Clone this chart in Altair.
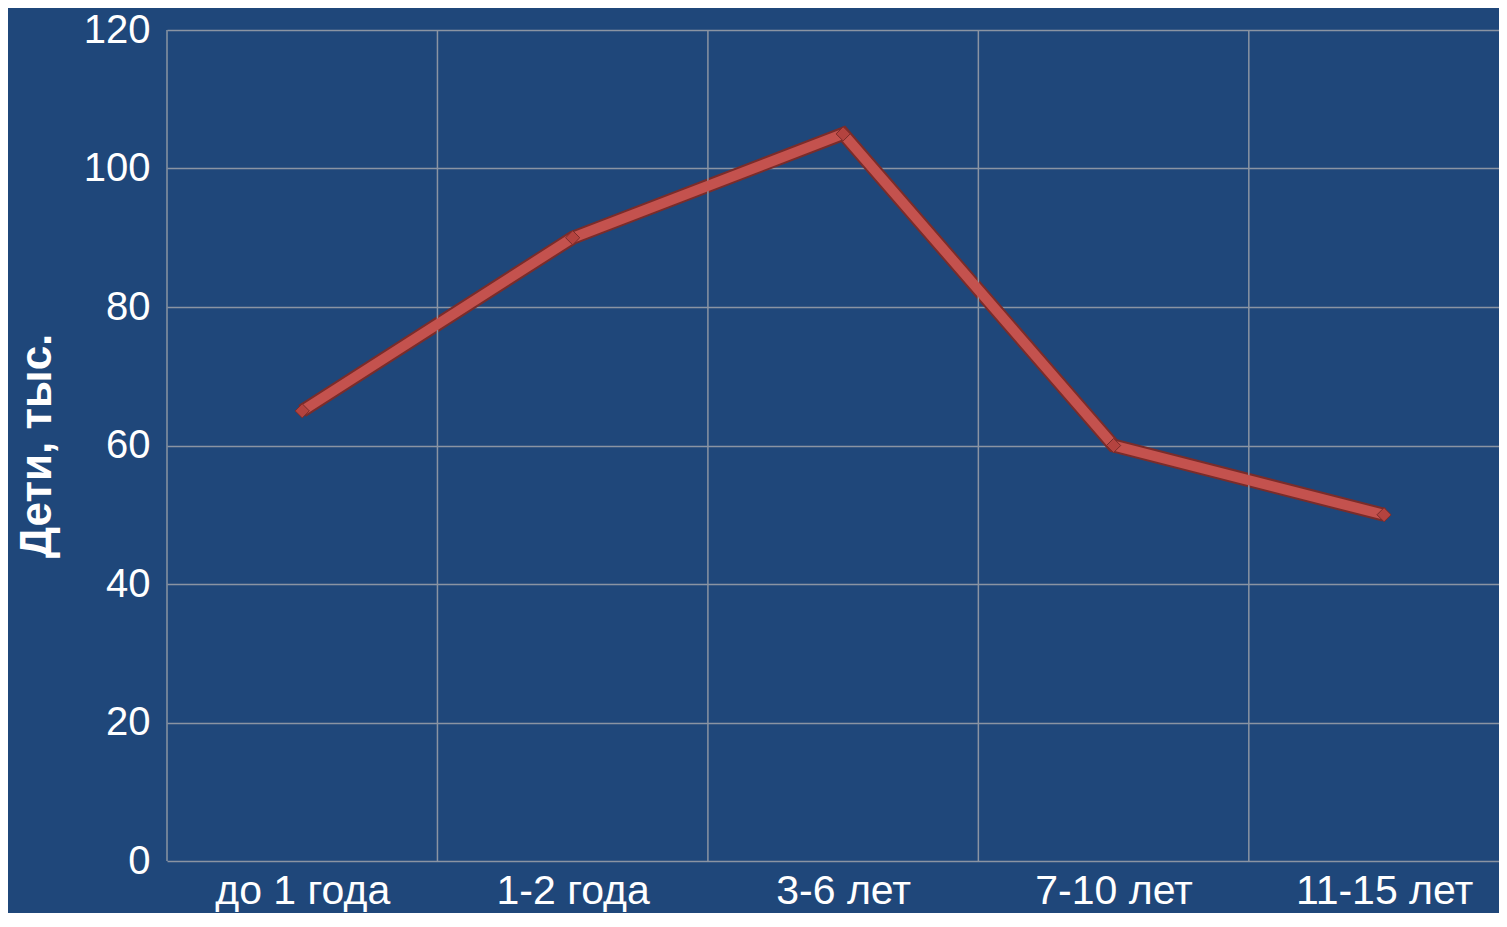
import json
import altair as alt
import pandas as pd

categories = ["до 1 года", "1-2 года", "3-6 лет", "7-10 лет", "11-15 лет"]
values = [65, 90, 105, 60, 50]
y_ticks = [0, 20, 40, 60, 80, 100, 120]
y_title = "Дети, тыс."

df = pd.DataFrame({
    "cat": categories,
    "idx": [i + 0.5 for i in range(len(categories))],
    "value": values,
})
bounds = pd.DataFrame({"b": list(range(len(categories) + 1))})

BG = "#1f477a"
GRID = "#8a94a3"
FONT = "Liberation Sans"

label_expr = json.dumps(categories, ensure_ascii=False) + "[floor(datum.value)]"

xscale = alt.Scale(domain=[0, 4.925], nice=False, zero=False)
yscale = alt.Scale(domain=[0, 120], nice=False)

x_axis = alt.Axis(
    values=[i + 0.5 for i in range(len(categories))],
    labelExpr=label_expr,
    grid=False, ticks=False, domain=False, title=None,
    labelFontSize=41, labelColor="#ffffff", labelFont=FONT,
    labelPadding=10, labelFlush=False, labelOverlap=False, labelBound=False,
    labelLimit=500,
)
y_axis = alt.Axis(
    values=y_ticks, grid=True, gridColor=GRID, gridWidth=1.5,
    ticks=False, domain=False,
    labelFontSize=40, labelColor="#ffffff", labelFont=FONT, labelPadding=17,
    labelFlush=False,
    title=y_title, titleFontSize=44, titleFont=FONT, titleFontWeight="bold",
    titleColor="#ffffff", titlePadding=24,
)

base = alt.Chart(df).encode(
    x=alt.X("idx:Q", scale=xscale, axis=x_axis),
    y=alt.Y("value:Q", scale=yscale, axis=y_axis),
)

line_dark = base.mark_line(color="#7a2c2a", strokeWidth=14, strokeJoin="miter", strokeCap="butt")
line_main = base.mark_line(color="#c4524e", strokeWidth=10, strokeJoin="miter", strokeCap="butt")
pts = base.mark_point(shape="diamond", filled=True, color="#b4433f", size=200, opacity=1,
                      stroke="#7a2c2a", strokeWidth=1)

grid_v = alt.Chart(bounds).mark_rule(color=GRID, strokeWidth=1.5).encode(
    x=alt.X("b:Q", scale=xscale, axis=x_axis)
)

chart = alt.layer(line_dark, grid_v, line_main, pts).properties(
    width=1332, height=831,
    background=BG,
    autosize=alt.AutoSizeParams(type="none"),
    padding={"left": 159, "top": 22, "right": 0, "bottom": 52},
).configure_view(stroke=None)

chart.save("out.html", embed_options={"renderer": "svg", "actions": False})
